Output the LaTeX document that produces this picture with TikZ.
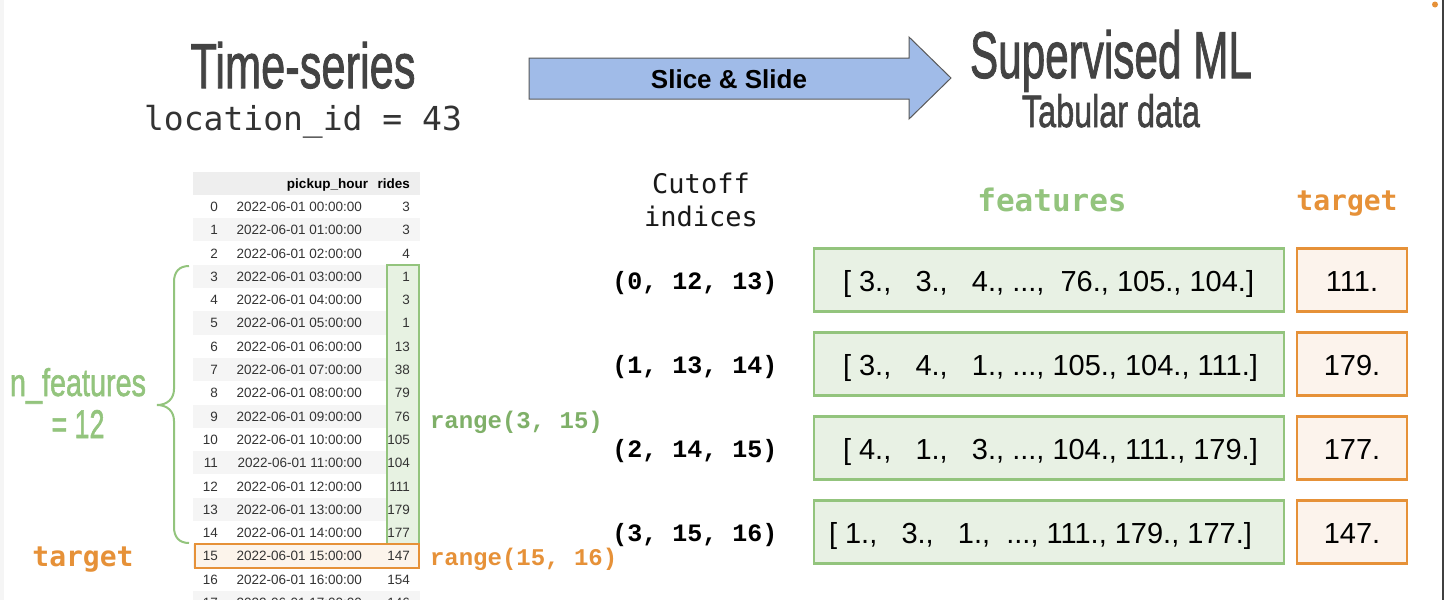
\documentclass[tikz,border=0pt]{standalone}
\usepackage{fontspec}
\usepackage{graphicx}
\setmainfont{Liberation Sans}
\newfontfamily\medsans[FakeBold=1.6]{Liberation Sans}
\newfontfamily\dvmono{DejaVu Sans Mono}
\newfontfamily\courmono{Liberation Mono}
\definecolor{tgreen}{HTML}{93C47D}
\definecolor{tgreentext}{HTML}{7FB068}
\definecolor{torange}{HTML}{E69138}
\definecolor{tdark}{HTML}{434343}
\definecolor{fgreen}{HTML}{E8F1E4}
\definecolor{forange}{HTML}{FCF3EC}
\definecolor{ablue}{HTML}{A0BBE8}
\definecolor{aborder}{HTML}{595959}
\definecolor{rowgray}{HTML}{F5F5F5}
\definecolor{hdrgray}{HTML}{EEEEEE}
\definecolor{tabtext}{HTML}{333333}
\begin{document}
\begin{tikzpicture}[x=1pt,y=-1pt,
  every node/.style={inner sep=0pt, outer sep=0pt},
  tabtxt/.style={font=\fontsize{13.5}{14}\selectfont, text=tabtext},
  tabhdr/.style={font=\fontsize{13.5}{14}\selectfont\bfseries, text=black},
  featbox/.style={draw=tgreen, line width=2.2pt, fill=fgreen, minimum width=470pt, minimum height=63pt},
  targbox/.style={draw=torange, line width=2.2pt, fill=forange, minimum width=110pt, minimum height=63pt},
  arrtxt/.style={font=\fontsize{29}{30}\selectfont, text=black, anchor=base west},
  tgtval/.style={font=\fontsize{29}{30}\selectfont, text=black, anchor=base},
  tuple/.style={font=\courmono\bfseries\fontsize{25}{26}\selectfont, text=black, anchor=base},
  rangetxt/.style={font=\courmono\bfseries\fontsize{24}{25}\selectfont, anchor=base west},
  collabel/.style={font=\dvmono\bfseries, anchor=base},
  condtitle/.style={anchor=base, font=\medsans},
]
\useasboundingbox (0,0) rectangle (1444,600);
\fill[white] (0,0) rectangle (1444,600);
\fill[black!4] (0,0) rectangle (4,600);
% right edge artefacts
\draw[line width=1.6pt, black!75] (1443,0) -- (1443,600);
\fill[torange] (1435,4.5) circle (3);

% titles
\node[condtitle, text=tdark] (ts) at (303,88) {\resizebox{225pt}{46pt}{Time-series}};
\node[anchor=base, text=black!80, font=\dvmono\fontsize{33}{34}\selectfont] (loc) at (303,130) {location\_id = 43};
\node[condtitle, text=tdark] (sml) at (1111,78) {\resizebox{282pt}{48pt}{Supervised ML}};
\node[condtitle, text=tdark] (tab) at (1111,127) {\resizebox{178pt}{33pt}{Tabular data}};

% arrow
\filldraw[fill=ablue, draw=aborder, line width=1pt]
  (529,58) -- (909,58) -- (909,37) -- (951,78) -- (909,119) -- (909,99) -- (529,99) -- cycle;
\node[font=\fontsize{26}{27}\selectfont\bfseries, text=black] (slice) at (729,79) {Slice \& Slide};

% column headings
\node[anchor=base, font=\dvmono\fontsize{27}{28}\selectfont, text=black!90] (cut1) at (701,193) {Cutoff};
\node[anchor=base, font=\dvmono\fontsize{27}{28}\selectfont, text=black!90] (cut2) at (701,226) {indices};
\node[collabel, font=\dvmono\bfseries\fontsize{31}{32}\selectfont, text=tgreen] (feat) at (1052,211) {features};
\node[collabel, font=\dvmono\bfseries\fontsize{28}{29}\selectfont, text=torange] (targ) at (1347,210) {target};

% rows of the supervised table
\node[featbox] (f0) at (1049,280) {};
\node[targbox] (t0) at (1352,280) {};
\node[featbox] (f1) at (1049,364) {};
\node[targbox] (t1) at (1352,364) {};
\node[featbox] (f2) at (1049,448) {};
\node[targbox] (t2) at (1352,448) {};
\node[featbox] (f3) at (1049,532) {};
\node[targbox] (t3) at (1352,532) {};

\node[tuple] (c0) at (695,289) {(0, 12, 13)};
\node[tuple] (c1) at (695,373) {(1, 13, 14)};
\node[tuple] (c2) at (695,457) {(2, 14, 15)};
\node[tuple] (c3) at (695,541) {(3, 15, 16)};

\node[arrtxt] (a0) at (843,291) {[~3.,~~~3.,~~~4.,~...,~~76.,~105.,~104.]};
\node[arrtxt] (a1) at (843,375) {[~3.,~~~4.,~~~1.,~...,~105.,~104.,~111.]};
\node[arrtxt] (a2) at (843,459) {[~4.,~~~1.,~~~3.,~...,~104.,~111.,~179.]};
\node[arrtxt] (a3) at (829,543) {[~1.,~~~3.,~~~1.,~~...,~111.,~179.,~177.]};

\node[tgtval] (v0) at (1352,291) {111.};
\node[tgtval] (v1) at (1352,375) {179.};
\node[tgtval] (v2) at (1352,459) {177.};
\node[tgtval] (v3) at (1352,543) {147.};

% time-series table
\fill[hdrgray] (193,171.5) rectangle (420,194.8);
\foreach \i in {0,...,17} {
  \pgfmathsetmacro\yc{206.5+23.3*\i}
  \ifodd\i \fill[rowgray] (193,\yc-11.65) rectangle (420,\yc+11.65); \fi
}
\filldraw[fill=tgreen!22, draw=tgreen, line width=2.2pt] (387,264.75) rectangle (419,544.35);
\filldraw[fill=torange!10, draw=torange, line width=2.2pt] (195,544.35) rectangle (419,567.65);

\node[tabhdr, anchor=base east] (hph) at (368,188) {pickup\_hour};
\node[tabhdr, anchor=base east] (hri) at (410,188) {rides};
\foreach \i/\r in {0/3,1/3,2/4,3/1,4/3,5/1,6/13,7/38,8/79,9/76,10/105,11/104,12/111,13/179,14/177,15/147,16/154,17/146} {
  \pgfmathsetmacro\yb{206.5+23.3*\i+4.9}
  \node[tabtxt, anchor=base east] (idx\i) at (218,\yb) {\i};
  \node[tabtxt, anchor=base east] (date\i) at (362,\yb) {2022-06-01 \ifnum\i<10 0\fi\i:00:00};
  \node[tabtxt, anchor=base east] (ride\i) at (410,\yb) {\r};
}

% brace and labels
\draw[tgreen, line width=2pt]
  (189,266) .. controls (179,266) and (174,272) .. (174,282) -- (174,389)
  .. controls (174,399) and (167,405) .. (157,405)
  .. controls (167,405) and (174,411) .. (174,421) -- (174,527)
  .. controls (174,537) and (179,543) .. (189,543);
\node[condtitle, text=tgreen] (nf1) at (78,396) {\resizebox{136pt}{28pt}{n\_features}};
\node[condtitle, text=tgreen] (nf2) at (78,438) {\resizebox{53pt}{28pt}{= 12}};
\node[collabel, font=\dvmono\bfseries\fontsize{28}{29}\selectfont, text=torange] (tleft) at (83,566) {target};
\node[rangetxt, text=tgreentext] (r1) at (430,428) {range(3, 15)};
\node[rangetxt, text=torange] (r2) at (430,565) {range(15, 16)};
\end{tikzpicture}
\end{document}
